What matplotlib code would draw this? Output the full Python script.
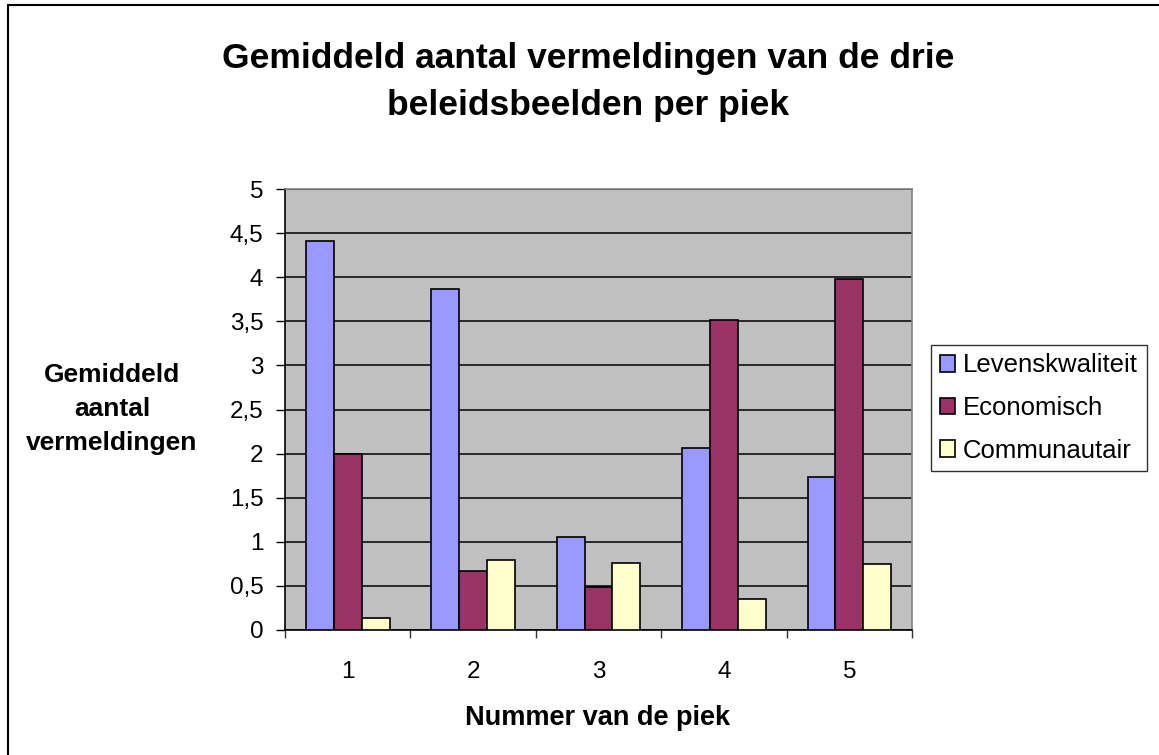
import matplotlib
matplotlib.use("Agg")
import matplotlib.pyplot as plt
import numpy as np
from matplotlib.patches import Rectangle

plt.rcParams['font.family'] = ['Liberation Sans', 'DejaVu Sans']

# data
pieken = [1, 2, 3, 4, 5]
levenskwaliteit = [4.41, 3.87, 1.06, 2.06, 1.73]
economisch = [2.00, 0.67, 0.49, 3.51, 3.98]
communautair = [0.14, 0.79, 0.76, 0.355, 0.745]

series = [("Levenskwaliteit", levenskwaliteit, "#9999FF"),
          ("Economisch", economisch, "#993366"),
          ("Communautair", communautair, "#FFFFCC")]

fig = plt.figure(figsize=(11.59, 7.55), dpi=100)
ax = fig.add_axes([285/1159, 1-630/755, (912-285)/1159, (630-189)/755])

# outer chart border (left + top visible, the rest is cut off)
fig.patches.append(Rectangle((8/1159, -0.05), 1.2, 1-5/755+0.05, transform=fig.transFigure,
                             fill=False, edgecolor="black", linewidth=1.5))

x = np.array(pieken)
w = 1/4.5
for i, (naam, vals, kleur) in enumerate(series):
    ax.bar(x + (i-1)*w, vals, width=w, color=kleur, edgecolor="black", linewidth=1.2,
           label=naam, zorder=3)

ax.set_facecolor("#C0C0C0")
ax.set_xlim(0.5, 5.5)
ax.set_ylim(0, 5)
ax.set_yticks(np.arange(0, 5.01, 0.5))
ax.set_yticklabels([("%g" % v).replace(".", ",") for v in np.arange(0, 5.01, 0.5)], fontsize=17.5)
ax.yaxis.grid(True, color="black", linewidth=1.1, zorder=1)
ax.set_axisbelow(True)

ax.set_xticks(np.arange(0.5, 5.6, 1))
ax.set_xticklabels([])
ax.set_xticks(x, minor=True)
ax.set_xticklabels([str(p) for p in pieken], minor=True, fontsize=17.5)
ax.tick_params(axis="x", which="major", length=6, width=1, color="#333333")
ax.tick_params(axis="x", which="minor", length=0, pad=22)
ax.tick_params(axis="y", length=6.5, width=1, pad=9)

for s in ["top", "right"]:
    ax.spines[s].set_color("#808080")
    ax.spines[s].set_linewidth(1.2)
for s in ["left", "bottom"]:
    ax.spines[s].set_color("black")
    ax.spines[s].set_linewidth(1.2)

fig.text(588/1159, 1-82/755, "Gemiddeld aantal vermeldingen van de drie\nbeleidsbeelden per piek",
         ha="center", va="center", fontsize=25.5, fontweight="bold", linespacing=1.55)
fig.text(112/1159, 1-409/755, "Gemiddeld\naantal\nvermeldingen", ha="center", va="center",
         fontsize=19, fontweight="bold", linespacing=1.55)
fig.text(598/1159, 1-718/755, "Nummer van de piek", ha="center", va="center",
         fontsize=19.5, fontweight="bold")

leg = ax.legend(loc="center left", bbox_to_anchor=(931/1159, 1-408/755),
                bbox_transform=fig.transFigure, fontsize=18.5, frameon=True, fancybox=False,
                edgecolor="black", handlelength=0.6, handleheight=0.6, handletextpad=0.3,
                labelspacing=0.72, borderpad=0.35, borderaxespad=0)
leg.get_frame().set_linewidth(1.0)

fig.savefig("out.png", dpi=100, facecolor="white")
